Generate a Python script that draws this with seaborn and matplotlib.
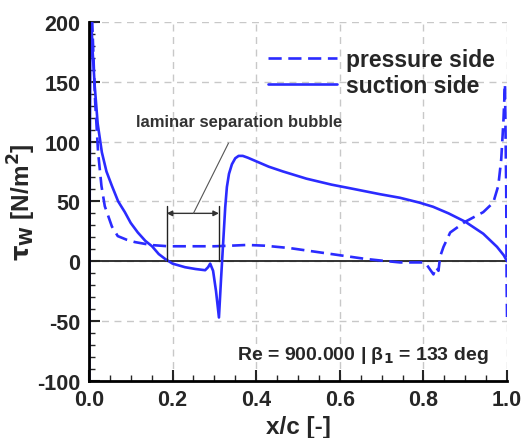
import matplotlib
matplotlib.use("Agg")
import matplotlib.pyplot as plt
from matplotlib.ticker import MultipleLocator
import seaborn as sns

# wall shear stress along the blade
suction_x = [0.0005, 0.002, 0.004, 0.006, 0.009, 0.014, 0.021, 0.031, 0.042, 0.055,
             0.070, 0.086, 0.100, 0.117, 0.135, 0.151, 0.167, 0.182, 0.200, 0.230,
             0.255, 0.278, 0.285, 0.290, 0.297, 0.304, 0.311, 0.316, 0.321, 0.326,
             0.330, 0.335, 0.342, 0.350, 0.358, 0.368, 0.380, 0.400, 0.430, 0.464,
             0.520, 0.580, 0.624, 0.696, 0.744, 0.790, 0.823, 0.860, 0.900, 0.943,
             0.976, 0.992, 1.000]
suction_tau = [-100, 60, 230, 200, 175, 146, 115, 91, 75, 63,
               50, 41, 32, 24, 17, 12.5, 6, 2, -2, -5,
               -6.5, -7.5, -5, -2, -8, -25, -47, -15, 15, 45,
               62, 73, 81, 86, 88, 88, 86.5, 83.5, 79, 75,
               69, 64, 61, 56, 53, 49, 45.5, 40, 33, 23,
               12, 5, 0]

pressure_x = [0.004, 0.008, 0.012, 0.015, 0.022, 0.030, 0.038, 0.055, 0.069, 0.090,
              0.110, 0.150, 0.190, 0.250, 0.300, 0.340, 0.378, 0.420, 0.480, 0.540,
              0.600, 0.660, 0.700, 0.744, 0.804, 0.812, 0.824, 0.830, 0.836, 0.840,
              0.848, 0.864, 0.900, 0.943, 0.967, 0.979, 0.986, 0.991, 0.995, 0.998,
              0.999, 1.000]
pressure_tau = [240, 200, 160, 133, 91, 63, 46, 29, 21, 18,
                16, 13.5, 12.5, 12.5, 12.5, 13, 13.6, 13, 11, 8,
                5, 2, 0.5, -1, -1, -5, -11, -5, -8, 4,
                12, 24, 33, 41, 49, 63, 85, 115, 148, 60,
                -20, -48]

bubble_start = 0.186
bubble_end = 0.311

sns.set_style("ticks")
plt.rcParams["font.family"] = ["Liberation Sans", "DejaVu Sans"]
plt.rcParams["font.weight"] = "bold"
plt.rcParams["mathtext.default"] = "bf"
plt.rcParams["axes.unicode_minus"] = False

blue = "#2b2bff"

fig = plt.figure(figsize=(5.26, 4.39), dpi=100)
ax = fig.add_axes([0.169, 0.130, 0.795, 0.818])

sns.lineplot(x=pressure_x, y=pressure_tau, sort=False, estimator=None, ax=ax,
             color=blue, lw=1.9, label="pressure side")
sns.lineplot(x=suction_x, y=suction_tau, sort=False, estimator=None, ax=ax,
             color=blue, lw=1.9, label="suction side")
ax.lines[0].set_dashes([5, 2.5])

ax.axhline(0, color="#222222", lw=1.3, zorder=1)

# separation bubble marker
for xb in (bubble_start, bubble_end):
    ax.plot([xb, xb], [0, 46], color="#222222", lw=1.0)
ax.annotate("", xy=(bubble_start, 40), xytext=(bubble_end, 40),
            arrowprops=dict(arrowstyle="<|-|>", color="#333333", lw=1.0,
                            shrinkA=0, shrinkB=0, mutation_scale=8))
ax.annotate("laminar separation bubble", xy=(0.25, 40), xytext=(0.36, 117),
            ha="center", va="center", fontsize=12, color="#333333", fontweight="bold",
            arrowprops=dict(arrowstyle="-", color="#555555", lw=0.8,
                            shrinkA=9, shrinkB=0))

ax.text(0.955, -78, "Re = 900.000 | β$_1$ = 133 deg", ha="right", va="center",
        fontsize=14, fontweight="bold")

ax.set_xlim(0, 1)
ax.set_ylim(-100, 200)
ax.xaxis.set_major_locator(MultipleLocator(0.2))
ax.xaxis.set_minor_locator(MultipleLocator(0.05))
ax.yaxis.set_major_locator(MultipleLocator(50))
ax.yaxis.set_minor_locator(MultipleLocator(10))
ax.set_xticklabels([f"{v:.1f}" for v in ax.get_xticks()])
ax.tick_params(which="major", direction="in", length=8, width=1.5, labelsize=15.5, pad=6)
ax.tick_params(which="minor", direction="in", length=4, width=1.0)
ax.grid(True, which="major", ls=(0, (5, 4)), color="#c8c8c8", lw=1.0)
for s in ("top", "right"):
    ax.spines[s].set_visible(False)
for s in ("left", "bottom"):
    ax.spines[s].set_linewidth(2)
    ax.spines[s].set_color("black")

ax.set_xlabel("x/c [-]", fontsize=17.5, fontweight="bold")
ax.xaxis.set_label_coords(0.5, -0.095)
ax.set_ylabel(r"$\tau_W$ [N/m$^2$]", fontsize=17.5, fontweight="bold")
ax.yaxis.set_label_coords(-0.122, 0.5)

ax.legend(loc="upper right", bbox_to_anchor=(1.02, 0.985), frameon=False,
          handlelength=3.0, handletextpad=0.4, labelspacing=0.15,
          prop={"weight": "bold", "size": 16.5})

fig.savefig("out.png", dpi=100)
